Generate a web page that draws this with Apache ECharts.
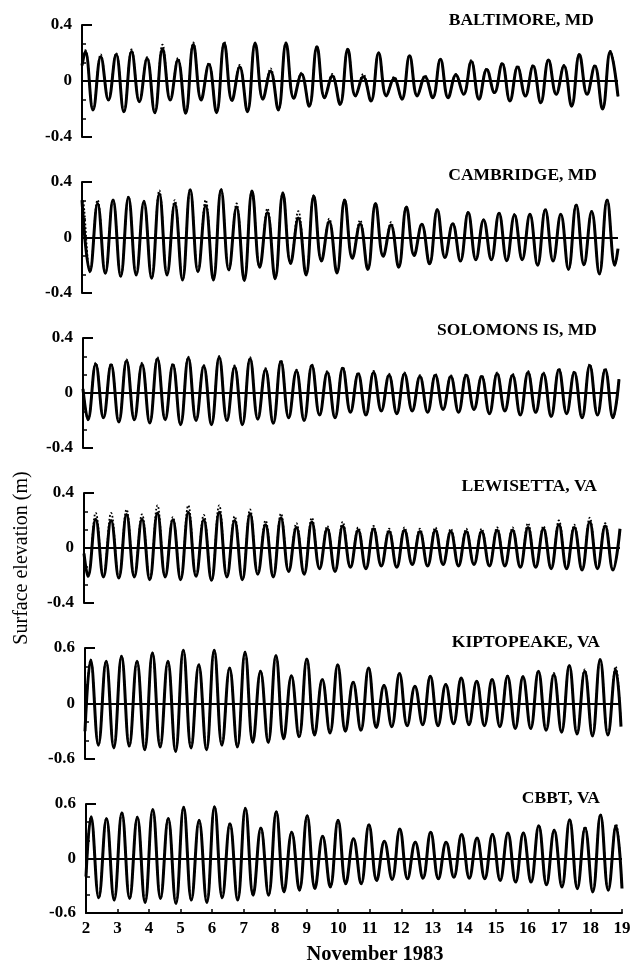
<!DOCTYPE html>
<html>
<head>
<meta charset="utf-8">
<title>Surface elevation, November 1983</title>
<script src="https://cdn.jsdelivr.net/npm/echarts@6/dist/echarts.min.js"></script>
<style>
html, body { margin: 0; padding: 0; background: #fff; }
#main { width: 643px; height: 969px; }
</style>
</head>
<body>
<div id="main"></div>
<script>
// station names, top to bottom
var stations = ['BALTIMORE, MD', 'CAMBRIDGE, MD', 'SOLOMONS IS, MD', 'LEWISETTA, VA', 'KIPTOPEAKE, VA', 'CBBT, VA'];
// y range of each panel (m)
var yRange = [0.4, 0.4, 0.4, 0.4, 0.6, 0.6];

// times (day of November) of the turns of the tide
var turnDays = [2.105, 2.350, 2.595, 2.839, 3.084, 3.329, 3.574, 3.819, 4.064, 4.309,
    4.554, 4.798, 5.043, 5.288, 5.533, 5.778, 6.023, 6.267, 6.512, 6.757,
    7.002, 7.247, 7.492, 7.737, 7.981, 8.226, 8.471, 8.716, 8.961, 9.206,
    9.451, 9.695, 9.940, 10.185, 10.430, 10.675, 10.920, 11.165, 11.409, 11.654,
    11.899, 12.144, 12.389, 12.634, 12.878, 13.123, 13.368, 13.613, 13.858, 14.103,
    14.348, 14.592, 14.837, 15.082, 15.327, 15.572, 15.817, 16.062, 16.306, 16.551,
    16.796, 17.041, 17.286, 17.530, 17.775, 18.020, 18.265, 18.510, 18.755, 19.000];

// lag of each station against those times (days), and whether its first turn is a high
var stationLag = [0, -0.10, 0.053, 0.021, 0.075, 0.054];
var firstIsHigh = [true, true, false, false, true, true];
// value at Nov 2 and at Nov 19
var startValue = [0.11, 0.27, 0.03, -0.04, -0.30, -0.20];
var endValue = [-0.11, -0.08, 0.10, 0.14, -0.25, -0.33];

// BALTIMORE, MD
var baltimoreHighs = [0.21, 0.174, 0.19, 0.21, 0.16, 0.23, 0.15, 0.26, 0.12, 0.27, 0.10, 0.27, 0.07, 0.27, 0.05, 0.245, 0.036, 0.226,
    0.03, 0.20, 0.02, 0.18, 0.03, 0.155, 0.043, 0.14, 0.083, 0.124, 0.10, 0.107, 0.15, 0.107, 0.19, 0.107, 0.21];
var baltimoreLows = [-0.207, -0.136, -0.22, -0.148, -0.226, -0.136, -0.23, -0.136, -0.226, -0.14, -0.22, -0.13, -0.207, -0.124, -0.18, -0.12, -0.167,
    -0.107, -0.143, -0.107, -0.13, -0.107, -0.12, -0.12, -0.095, -0.13, -0.083, -0.143, -0.107, -0.155, -0.095, -0.18, -0.095, -0.20];
var baltimoreObsHighs = [0.22, 0.19, 0.20, 0.225, 0.17, 0.26, 0.165, 0.275, 0.13, 0.28, 0.115, 0.275, 0.09, 0.275, 0.06, 0.25, 0.05, 0.23,
    0.05, 0.205, 0.03, 0.185, 0.04, 0.16, 0.05, 0.15, 0.09, 0.13, 0.11, 0.115, 0.155, 0.115, 0.195, 0.115, 0.215];

// CAMBRIDGE, MD
var cambridgeHighs = [0.27, 0.245, 0.27, 0.29, 0.26, 0.316, 0.245, 0.345, 0.23, 0.345, 0.22, 0.335, 0.18, 0.32, 0.14, 0.30, 0.115, 0.27,
    0.10, 0.245, 0.09, 0.22, 0.096, 0.20, 0.10, 0.18, 0.127, 0.175, 0.163, 0.167, 0.20, 0.167, 0.234, 0.187, 0.27];
var cambridgeLows = [-0.246, -0.258, -0.28, -0.27, -0.294, -0.27, -0.306, -0.246, -0.306, -0.234, -0.31, -0.215, -0.297, -0.187, -0.27, -0.17, -0.256, -0.15,
    -0.23, -0.136, -0.215, -0.13, -0.19, -0.144, -0.17, -0.16, -0.16, -0.167, -0.16, -0.20, -0.17, -0.23, -0.196, -0.263, -0.20];
var cambridgeObsHighs = [0.28, 0.27, 0.275, 0.295, 0.265, 0.34, 0.27, 0.35, 0.27, 0.35, 0.245, 0.34, 0.21, 0.325, 0.19, 0.305, 0.135, 0.275,
    0.125, 0.25, 0.11, 0.225, 0.10, 0.205, 0.105, 0.185, 0.13, 0.18, 0.17, 0.17, 0.205, 0.17, 0.24, 0.19, 0.275];

// SOLOMONS IS, MD
var solomonsHighs = [0.21, 0.206, 0.235, 0.21, 0.25, 0.206, 0.255, 0.194, 0.26, 0.19, 0.25, 0.17, 0.23, 0.16, 0.20, 0.15, 0.18,
    0.14, 0.15, 0.13, 0.14, 0.12, 0.13, 0.12, 0.13, 0.12, 0.14, 0.13, 0.15, 0.14, 0.17, 0.15, 0.20, 0.17];
var solomonsLows = [-0.194, -0.18, -0.21, -0.194, -0.218, -0.194, -0.23, -0.20, -0.23, -0.20, -0.23, -0.19, -0.22, -0.18, -0.20, -0.16, -0.18, -0.14,
    -0.16, -0.13, -0.15, -0.13, -0.14, -0.12, -0.14, -0.12, -0.15, -0.13, -0.16, -0.14, -0.17, -0.15, -0.18, -0.16, -0.18];
var solomonsObsHighs = [0.22, 0.215, 0.245, 0.22, 0.26, 0.215, 0.265, 0.205, 0.27, 0.20, 0.26, 0.18, 0.24, 0.17, 0.21, 0.16, 0.19,
    0.15, 0.16, 0.14, 0.15, 0.13, 0.14, 0.13, 0.14, 0.13, 0.15, 0.14, 0.16, 0.15, 0.18, 0.16, 0.21, 0.18];

// LEWISETTA, VA
var lewisettaHighs = [0.21, 0.20, 0.243, 0.21, 0.255, 0.206, 0.26, 0.206, 0.26, 0.20, 0.25, 0.17, 0.22, 0.15, 0.19, 0.14, 0.16,
    0.13, 0.14, 0.12, 0.13, 0.12, 0.13, 0.12, 0.12, 0.12, 0.13, 0.13, 0.15, 0.14, 0.17, 0.15, 0.19, 0.16];
var lewisettaLows = [-0.206, -0.21, -0.218, -0.21, -0.23, -0.21, -0.23, -0.206, -0.235, -0.21, -0.23, -0.19, -0.21, -0.17, -0.19, -0.15, -0.17, -0.14,
    -0.15, -0.13, -0.14, -0.12, -0.13, -0.12, -0.13, -0.12, -0.13, -0.13, -0.14, -0.14, -0.15, -0.15, -0.16, -0.15, -0.16];
var lewisettaObsHighs = [0.255, 0.255, 0.28, 0.245, 0.31, 0.225, 0.31, 0.24, 0.31, 0.23, 0.28, 0.20, 0.25, 0.18, 0.22, 0.16, 0.19,
    0.15, 0.16, 0.14, 0.15, 0.14, 0.15, 0.14, 0.14, 0.14, 0.15, 0.15, 0.18, 0.16, 0.20, 0.17, 0.22, 0.18];

// KIPTOPEAKE, VA
var kiptopeakeHighs = [0.47, 0.457, 0.51, 0.457, 0.547, 0.457, 0.575, 0.42, 0.575, 0.385, 0.554, 0.35, 0.518, 0.30, 0.48, 0.26, 0.42, 0.23,
    0.385, 0.194, 0.324, 0.187, 0.295, 0.205, 0.277, 0.24, 0.26, 0.295, 0.288, 0.35, 0.313, 0.41, 0.35, 0.475, 0.367];
var kiptopeakeLows = [-0.45, -0.48, -0.46, -0.50, -0.47, -0.52, -0.48, -0.50, -0.45, -0.47, -0.42, -0.42, -0.38, -0.36, -0.34, -0.32, -0.30,
    -0.29, -0.26, -0.25, -0.24, -0.23, -0.24, -0.22, -0.23, -0.24, -0.25, -0.27, -0.27, -0.29, -0.31, -0.33, -0.35, -0.34];
var kiptopeakeObsHighs = [0.475, 0.46, 0.515, 0.46, 0.55, 0.46, 0.58, 0.425, 0.58, 0.39, 0.56, 0.355, 0.52, 0.305, 0.485, 0.265, 0.425, 0.235,
    0.39, 0.2, 0.33, 0.19, 0.3, 0.21, 0.28, 0.245, 0.265, 0.3, 0.295, 0.355, 0.33, 0.415, 0.37, 0.48, 0.40];

// CBBT, VA
var cbbtHighs = [0.46, 0.44, 0.505, 0.455, 0.54, 0.44, 0.563, 0.42, 0.57, 0.383, 0.552, 0.336, 0.516, 0.29, 0.47, 0.245, 0.42, 0.217,
    0.372, 0.19, 0.325, 0.18, 0.29, 0.18, 0.264, 0.227, 0.264, 0.28, 0.28, 0.36, 0.31, 0.426, 0.336, 0.48, 0.36];
var cbbtLows = [-0.433, -0.458, -0.44, -0.484, -0.44, -0.495, -0.458, -0.484, -0.433, -0.458, -0.404, -0.404, -0.368, -0.35, -0.33, -0.314, -0.278,
    -0.278, -0.242, -0.23, -0.224, -0.217, -0.224, -0.206, -0.217, -0.224, -0.242, -0.26, -0.26, -0.289, -0.314, -0.332, -0.368, -0.35];
var cbbtObsHighs = [0.465, 0.445, 0.51, 0.46, 0.545, 0.445, 0.568, 0.425, 0.575, 0.39, 0.557, 0.342, 0.52, 0.295, 0.475, 0.25, 0.425, 0.222,
    0.377, 0.195, 0.33, 0.185, 0.295, 0.185, 0.27, 0.232, 0.27, 0.285, 0.285, 0.365, 0.318, 0.432, 0.352, 0.49, 0.38];

var stationHighs = [baltimoreHighs, cambridgeHighs, solomonsHighs, lewisettaHighs, kiptopeakeHighs, cbbtHighs];
var stationLows = [baltimoreLows, cambridgeLows, solomonsLows, lewisettaLows, kiptopeakeLows, cbbtLows];
var stationObsHighs = [baltimoreObsHighs, cambridgeObsHighs, solomonsObsHighs, lewisettaObsHighs, kiptopeakeObsHighs, cbbtObsHighs];

// layout (px)
var panelLeft = [82, 82, 83, 84, 85, 86];
var panelTop = [25, 182, 338, 493, 648, 804];
var panelHeight = [112, 111, 110, 110, 111, 109];
var panelWidth = 536;
var labelRight = [594, 597, 597, 597, 600, 600];
var labelTop = [11, 166, 321, 477, 633, 789];

var serif = '"Liberation Serif", "Times New Roman", serif';

// turn the highs and lows into [day, value] points
function buildCurve(i, highs) {
    var lows = stationLows[i];
    var pts = [[2, startValue[i]]];
    var n = highs.length + lows.length;
    var hi = 0, lo = 0;
    for (var k = 0; k < n; k++) {
        var isHigh = firstIsHigh[i] ? (k % 2 == 0) : (k % 2 == 1);
        var v = isHigh ? highs[hi++] : lows[lo++];
        var t = turnDays[k] + stationLag[i];
        if (t > 2 && t < 19) pts.push([t, v]);
    }
    pts.push([19, endValue[i]]);
    return pts;
}

var grids = [], xAxes = [], yAxes = [], series = [], titles = [];
for (var i = 0; i < stations.length; i++) {
    var last = i == stations.length - 1;
    grids.push({
        left: panelLeft[i], top: panelTop[i], width: panelWidth, height: panelHeight[i]
    });
    xAxes.push({
        gridIndex: i, type: 'value', min: 2, max: 19, interval: 1,
        show: last,
        position: 'bottom',
        axisLine: { onZero: false, lineStyle: { color: '#000', width: 2 } },
        axisTick: { inside: true, length: 4, lineStyle: { color: '#000', width: 1.5 } },
        axisLabel: { color: '#000', fontFamily: serif, fontWeight: 'bold', fontSize: 17, margin: 7 },
        splitLine: { show: false }
    });
    yAxes.push({
        gridIndex: i, type: 'value', min: -yRange[i], max: yRange[i], interval: yRange[i],
        axisLine: { show: true, lineStyle: { color: '#000', width: 2 } },
        axisTick: { show: true, inside: true, length: 10, lineStyle: { color: '#000', width: 2 } },
        minorTick: { show: true, splitNumber: 3, length: 4, lineStyle: { color: '#000', width: 1.5 } },
        axisLabel: {
            color: '#000', fontFamily: serif, fontWeight: 'bold', fontSize: 17, margin: 10,
            formatter: function (v) { return v == 0 ? '0' : String(Math.round(v * 10) / 10); }
        },
        splitLine: { show: false }
    });
    // observed: dotted
    series.push({
        type: 'line', xAxisIndex: i, yAxisIndex: i,
        data: buildCurve(i, stationObsHighs[i]),
        smooth: 0.42, showSymbol: false, symbol: 'none',
        lineStyle: { color: '#000', width: 1.8, type: [1.8, 2] },
        z: 2
    });
    // model: solid
    series.push({
        type: 'line', xAxisIndex: i, yAxisIndex: i,
        data: buildCurve(i, stationHighs[i]),
        smooth: 0.42, showSymbol: false, symbol: 'none',
        lineStyle: { color: '#000', width: 3 },
        z: 3,
        markLine: {
            silent: true, symbol: 'none', label: { show: false },
            lineStyle: { color: '#000', width: 2, type: 'solid' },
            data: [{ yAxis: 0 }]
        }
    });
    titles.push({
        text: stations[i], right: 643 - labelRight[i], top: labelTop[i], padding: 0,
        textStyle: { color: '#000', fontFamily: serif, fontWeight: 'bold', fontSize: 17.5 }
    });
}

var myChart = echarts.init(document.getElementById('main'));
myChart.setOption({
    animation: false,
    backgroundColor: '#fff',
    title: titles,
    grid: grids,
    xAxis: xAxes,
    yAxis: yAxes,
    series: series,
    graphic: [
        {
            type: 'text', x: 22, y: 558, rotation: Math.PI / 2,
            style: { text: 'Surface elevation (m)', font: '20px ' + serif, fill: '#000', textAlign: 'center', textVerticalAlign: 'middle' }
        },
        {
            type: 'text', x: 375, y: 955,
            style: { text: 'November 1983', font: 'bold 20.5px ' + serif, fill: '#000', textAlign: 'center', textVerticalAlign: 'middle' }
        }
    ]
});
</script>
</body>
</html>
